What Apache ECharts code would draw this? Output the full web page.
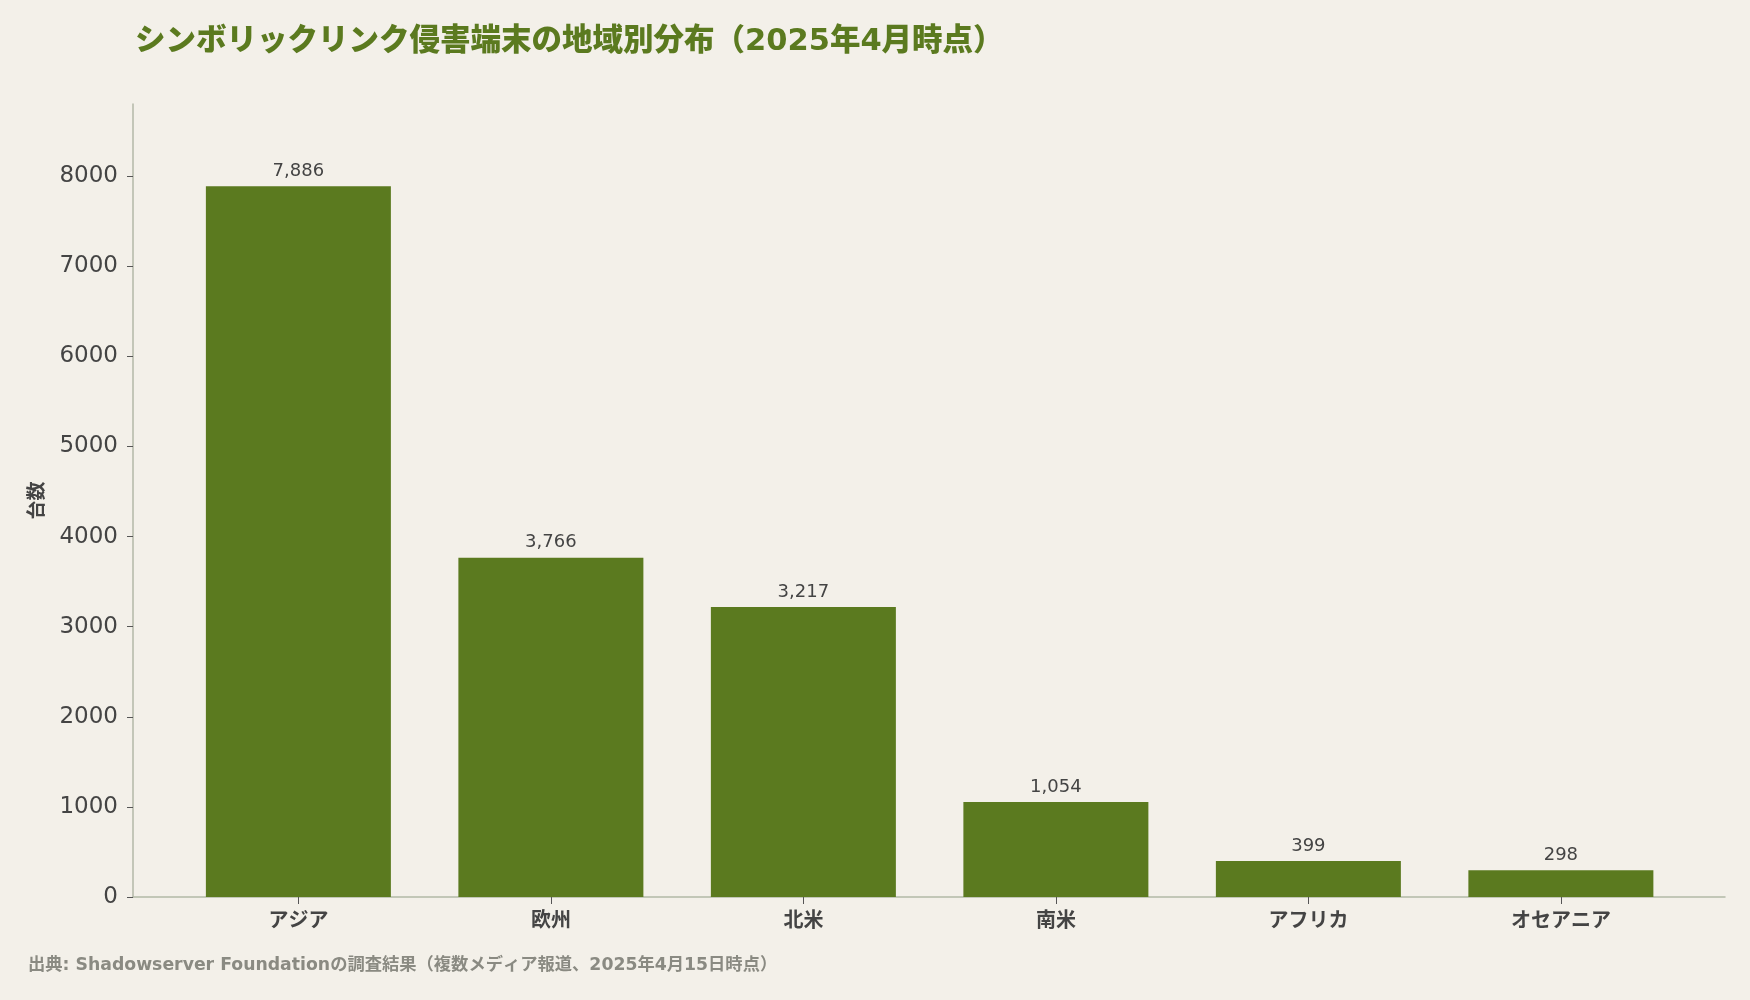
<!DOCTYPE html>
<html>
<head>
    <meta charset="utf-8"/>
    <title>シンボリックリンク侵害端末の地域別分布</title>
    <script src="https://cdn.jsdelivr.net/npm/echarts@6/dist/echarts.min.js"></script>
    <style>
        html, body { margin: 0; padding: 0; background: #f3f0e9; }
        #chart1 { width: 1750px; height: 1000px; }
    </style>
</head>
<body>
<div id="chart1"></div>
<script type="text/javascript">
    // データ
    var regions = ['アジア', '欧州', '北米', '南米', 'アフリカ', 'オセアニア'];
    var counts = [7886, 3766, 3217, 1054, 399, 298];
    var yTicks = [0, 1000, 2000, 3000, 4000, 5000, 6000, 7000, 8000];
    var xTicks = regions.map(function (r, i) { return i; });

    var jp = '"Noto Sans CJK JP", sans-serif';
    var mixed = '"DejaVu Sans", "Noto Sans CJK JP", sans-serif';
    var green = '#5b7a1f';

    var myChart1 = echarts.init(document.getElementById('chart1'));

    // 横軸は両端に余白を持たせるため value 軸で描く
    myChart1.setOption({
        backgroundColor: '#f3f0e9',
        animation: false,
        title: [{
            text: 'シンボリックリンク侵害端末の地域別分布（2025年4月時点）',
            left: 130,
            top: 22,
            textStyle: {
                color: green,
                fontSize: 30.5,
                fontWeight: 900,
                fontFamily: mixed
            }
        }, {
            text: '出典: Shadowserver Foundationの調査結果（複数メディア報道、2025年4月15日時点）',
            left: 23,
            top: 952,
            textStyle: {
                color: '#8a8a82',
                fontSize: 17.3,
                fontWeight: 'bold',
                fontFamily: mixed
            }
        }],
        grid: {
            left: 133,
            right: 25,
            top: 104,
            bottom: 103,
            containLabel: false
        },
        xAxis: {
            type: 'value',
            min: -0.655,
            max: 5.65,
            splitLine: { show: false },
            axisLine: { show: true, onZero: false, lineStyle: { color: '#b3b9a7', width: 1.5 } },
            axisTick: { show: true, length: 7, customValues: xTicks, lineStyle: { color: '#555' } },
            axisLabel: {
                customValues: xTicks,
                formatter: function (v) { return regions[Math.round(v)]; },
                color: '#444',
                fontSize: 20,
                fontWeight: 'bold',
                fontFamily: jp,
                margin: 12
            }
        },
        yAxis: {
            type: 'value',
            min: 0,
            max: 8800,
            interval: 1000,
            name: '台数',
            nameLocation: 'middle',
            nameGap: 88,
            nameTextStyle: {
                color: '#444',
                fontSize: 19,
                fontWeight: 'bold',
                fontFamily: jp
            },
            splitLine: { show: false },
            axisLine: { show: true, onZero: false, lineStyle: { color: '#b3b9a7', width: 1.5 } },
            axisTick: { show: true, length: 6, customValues: yTicks, lineStyle: { color: '#555' } },
            axisLabel: {
                customValues: yTicks,
                formatter: function (v) { return String(v); },
                color: '#444',
                fontSize: 23,
                fontFamily: '"DejaVu Sans", sans-serif',
                margin: 15
            }
        },
        series: [{
            name: '台数',
            type: 'bar',
            data: counts.map(function (c, i) { return [i, c]; }),
            barWidth: 185,
            itemStyle: { color: green },
            label: {
                show: true,
                position: 'top',
                distance: 6,
                color: '#444',
                fontSize: 18,
                fontFamily: '"DejaVu Sans", sans-serif',
                formatter: function (p) {
                    return p.value[1].toLocaleString('en-US');
                }
            }
        }]
    });
</script>
</body>
</html>
